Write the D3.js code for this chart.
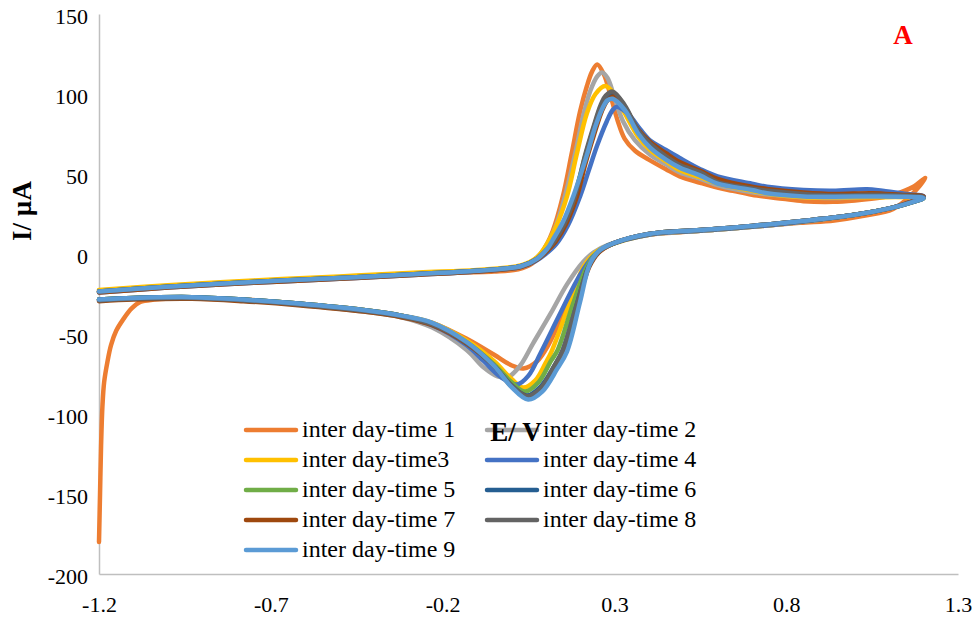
<!DOCTYPE html>
<html>
<head>
<meta charset="utf-8">
<script src="https://cdn.jsdelivr.net/npm/d3@7"></script>
<style>
	body { margin: 0; background: #fff; }
	svg text { font-family: "Liberation Serif", "Times New Roman", serif; fill: #000; }
</style>
</head>
<body>
<div id="chart"></div>
<script>
// Axis ticks
let potentialTicks = [-1.2, -0.7, -0.2, 0.3, 0.8, 1.3];
let currentTicks = [-200, -150, -100, -50, 0, 50, 100, 150];

let seriesNames = ['inter day-time 1', 'inter day-time 2', 'inter day-time3', 'inter day-time 4', 'inter day-time 5',
	'inter day-time 6', 'inter day-time 7', 'inter day-time 8', 'inter day-time 9'];
let seriesColors = ['#ED7D31', '#A5A5A5', '#FFC000', '#4472C4', '#70AD47', '#255E91', '#9E480E', '#636363', '#5B9BD5'];

// Voltammograms, [E (V), I (uA)] in scan order
let cv1 = [[-1.2,-180],[-1.197,-150],[-1.194,-120],[-1.19,-95],[-1.185,-80],[-1.176,-68],[-1.165,-57],[-1.15,-48],[-1.13,-41],[-1.105,-34],[-1.08,-30],[-1.04,-28.5],[-0.93,-27.5],[-0.78,-28.5],[-0.62,-31],[-0.43,-35],[-0.32,-38.5],[-0.23,-43],[-0.13,-53],[-0.05,-63],[0,-69.5],[0.035,-71.5],[0.075,-67],[0.11,-56],[0.15,-38],[0.19,-20],[0.225,-6],[0.26,2],[0.3,7],[0.4,12],[0.55,14.5],[0.7,17],[0.84,19.5],[0.94,21],[1.03,24],[1.11,28],[1.16,36],[1.205,47.5],
	[1.17,42],[1.12,37.5],[1.08,35.5],[1.0,33.5],[0.936,32.6],[0.85,33],[0.79,34.5],[0.7,37],[0.645,39.5],[0.6,41.5],[0.55,44.5],[0.49,48.5],[0.45,53],[0.4,59],[0.36,64.5],[0.33,72],[0.31,83],[0.29,98],[0.27,112],[0.25,118.5],[0.235,114],[0.22,105],[0.2,89],[0.175,62],[0.15,36],[0.12,14],[0.09,1],[0.06,-6],[0.02,-9.5],[-0.05,-11],[-0.27,-12],[-0.5,-14.5],[-0.75,-17],[-1.0,-20],[-1.2,-23]];

let cv2 = [[-1.2,-29],[-1.1,-28],[-0.93,-27.5],[-0.78,-29],[-0.62,-31.5],[-0.43,-36],[-0.32,-39.5],[-0.23,-46],[-0.13,-60],[-0.08,-71],[-0.04,-76.5],[-0.01,-77],[0.025,-70],[0.063,-56],[0.115,-37],[0.162,-19],[0.209,-5],[0.24,1],[0.28,5.5],[0.4,12],[0.55,14.5],[0.7,17],[0.84,20],[1.0,24.5],[1.11,29],[1.16,32.5],[1.2,36],
	[1.15,37],[1.05,36],[0.94,35],[0.85,35.5],[0.79,36.5],[0.7,38.5],[0.6,43],[0.55,47],[0.49,51],[0.45,56],[0.404,62],[0.36,71],[0.325,83],[0.3,98],[0.28,110],[0.264,113.5],[0.25,111],[0.23,102],[0.21,87],[0.185,62],[0.156,36],[0.125,15],[0.095,3],[0.065,-4],[0.03,-8],[-0.1,-10.5],[-0.27,-12.5],[-0.5,-15],[-0.75,-17.5],[-1.0,-20.5],[-1.2,-23.5]];

let cv3 = [[-1.2,-28.5],[-1.1,-27.5],[-0.93,-27],[-0.78,-28.5],[-0.62,-31],[-0.43,-35],[-0.32,-38.5],[-0.23,-43],[-0.13,-54],[-0.05,-67],[0,-78],[0.034,-83.5],[0.07,-79],[0.1,-68],[0.117,-61],[0.171,-30],[0.21,-8],[0.245,1],[0.28,5],[0.4,12],[0.55,14.5],[0.7,17],[0.84,20],[1.0,24.5],[1.11,29],[1.16,32],[1.2,35],
	[1.15,35.5],[1.05,35.5],[0.94,35.5],[0.85,35.5],[0.75,37.5],[0.7,39.5],[0.6,44],[0.55,48],[0.49,52.5],[0.45,58],[0.404,65],[0.37,73],[0.33,88],[0.3,100],[0.273,105],[0.245,100],[0.22,88],[0.19,62],[0.162,36],[0.13,17],[0.1,5],[0.075,-2],[0.03,-7],[-0.1,-10],[-0.27,-11.5],[-0.5,-14],[-0.75,-16.5],[-1.0,-19.5],[-1.2,-22.5]];

let cv4 = [[-1.2,-28.5],[-1.1,-27.5],[-0.93,-27],[-0.78,-28.5],[-0.62,-31],[-0.43,-35.5],[-0.32,-39],[-0.23,-44.5],[-0.13,-57],[-0.08,-67],[-0.03,-77],[0.017,-81.5],[0.05,-76],[0.085,-62],[0.145,-36],[0.2,-13],[0.24,-1],[0.28,5],[0.4,12],[0.55,14.5],[0.7,17],[0.84,20],[1.0,24.5],[1.11,29],[1.16,32.5],[1.2,36],
	[1.15,37.5],[1.08,39.5],[1.035,40.5],[0.936,39.5],[0.85,40],[0.744,42],[0.7,44],[0.6,48.5],[0.55,53],[0.49,60],[0.45,65],[0.404,71],[0.375,78],[0.34,87.5],[0.307,92],[0.295,90],[0.278,83],[0.25,68],[0.225,52],[0.2,36],[0.165,18],[0.13,6],[0.1,0],[0.07,-4.5],[0.03,-8],[-0.1,-11],[-0.27,-13],[-0.5,-15.5],[-0.75,-18],[-1.0,-21],[-1.2,-24]];

let cv5 = [[-1.2,-28.5],[-1.1,-27.5],[-0.93,-27],[-0.78,-28.5],[-0.62,-31],[-0.43,-35],[-0.32,-38.5],[-0.23,-43.5],[-0.13,-55],[-0.05,-69],[0,-80],[0.04,-86],[0.08,-80],[0.115,-67],[0.135,-60],[0.18,-31],[0.22,-8],[0.25,1],[0.29,6],[0.4,12.5],[0.55,15],[0.7,17.5],[0.84,20.5],[1.0,24.5],[1.11,29],[1.16,32],[1.2,35],
	[1.15,36],[1.05,36.5],[0.94,36.5],[0.85,37],[0.75,39],[0.7,40.5],[0.6,45],[0.55,50.5],[0.49,55.5],[0.45,61],[0.404,68.5],[0.37,76.5],[0.33,92],[0.295,100],[0.275,98],[0.26,92],[0.24,79],[0.215,61],[0.183,36],[0.153,19],[0.123,8],[0.1,2],[0.075,-3],[0.03,-7.5],[-0.1,-10.5],[-0.27,-12.5],[-0.5,-15],[-0.75,-17.5],[-1.0,-20.5],[-1.2,-23.5]];

let cv6 = [[-1.2,-28.5],[-1.1,-27.5],[-0.93,-27],[-0.78,-28.5],[-0.62,-31],[-0.43,-35],[-0.32,-38.5],[-0.23,-43.5],[-0.13,-55.5],[-0.05,-70],[0,-82],[0.045,-88.5],[0.085,-83],[0.125,-70],[0.15,-60],[0.19,-32],[0.225,-8],[0.255,1.5],[0.29,6],[0.4,12.5],[0.55,15],[0.7,17.5],[0.84,20.5],[1.0,24.5],[1.11,29],[1.16,32],[1.2,35],
	[1.15,36.5],[1.05,37],[0.94,37],[0.85,37.5],[0.75,39.5],[0.7,41],[0.6,46],[0.55,51.5],[0.49,56.5],[0.45,62],[0.404,69.5],[0.37,77],[0.33,92],[0.3,100],[0.28,98],[0.262,92],[0.24,78],[0.215,60],[0.188,36],[0.157,19],[0.127,8],[0.1,1.5],[0.075,-3],[0.03,-7.5],[-0.1,-10.5],[-0.27,-12.5],[-0.5,-15],[-0.75,-17.5],[-1.0,-20.5],[-1.2,-23.5]];

let cv7 = [[-1.2,-29.5],[-1.1,-28.5],[-0.93,-28],[-0.78,-29.5],[-0.62,-32],[-0.43,-36],[-0.32,-39.5],[-0.23,-44.5],[-0.13,-56],[-0.05,-70],[0,-82.5],[0.047,-89],[0.087,-84],[0.127,-70],[0.152,-60],[0.192,-32],[0.227,-8],[0.257,1.5],[0.29,6],[0.4,12.5],[0.55,15],[0.7,17.5],[0.84,20.5],[1.0,24.5],[1.11,29],[1.16,32.5],[1.2,36],
	[1.13,37],[1.05,38],[0.94,37.5],[0.85,38.5],[0.75,40.5],[0.7,42],[0.6,47],[0.55,52],[0.49,57.5],[0.45,63],[0.404,70],[0.37,77.5],[0.33,91.5],[0.298,98.5],[0.28,96],[0.263,89],[0.24,74],[0.215,56],[0.191,36],[0.16,19],[0.13,8],[0.1,1],[0.075,-3.5],[0.03,-8],[-0.1,-11],[-0.27,-13],[-0.5,-15.5],[-0.75,-18],[-1.0,-21],[-1.2,-24]];

let cv8 = [[-1.2,-29],[-1.1,-28],[-0.93,-27.5],[-0.78,-29],[-0.62,-31.5],[-0.43,-35.5],[-0.32,-39],[-0.23,-44],[-0.13,-55.5],[-0.05,-70],[0,-82],[0.045,-89],[0.085,-84],[0.125,-70],[0.15,-60],[0.19,-32],[0.225,-8],[0.255,1.5],[0.29,6],[0.4,12.5],[0.55,15],[0.7,17.5],[0.84,20.5],[1.0,24.5],[1.11,29],[1.16,32],[1.2,35.5],
	[1.13,36.5],[1.05,37],[0.94,36.5],[0.85,37.5],[0.75,39.5],[0.7,41],[0.6,45],[0.55,51],[0.49,55.6],[0.45,61],[0.404,69],[0.37,77],[0.33,93],[0.295,101.5],[0.275,99],[0.26,93],[0.24,80],[0.215,62],[0.185,36],[0.155,19],[0.125,8],[0.1,2],[0.075,-3],[0.03,-7.5],[-0.1,-10.5],[-0.27,-12.5],[-0.5,-15],[-0.75,-17.5],[-1.0,-20.5],[-1.2,-23.5]];

let cv9 = [[-1.2,-28.5],[-1.1,-27.5],[-0.93,-27],[-0.78,-28.5],[-0.62,-31],[-0.43,-35],[-0.32,-38.5],[-0.23,-43],[-0.13,-55],[-0.05,-70],[0,-83],[0.049,-91],[0.09,-86],[0.133,-72],[0.162,-61],[0.2,-30],[0.229,-6],[0.258,2.5],[0.3,7],[0.4,12.5],[0.55,15],[0.7,17.5],[0.84,20.5],[1.0,24.5],[1.11,29],[1.16,32],[1.2,35],
	[1.15,35.8],[1.05,36],[0.94,35.8],[0.85,36],[0.744,38],[0.7,40],[0.6,44],[0.55,49],[0.49,54],[0.45,59],[0.404,66.5],[0.37,75],[0.33,90],[0.295,97],[0.28,96],[0.265,91],[0.245,80],[0.22,62],[0.18,36],[0.15,20],[0.121,9],[0.104,3],[0.075,-3],[0.03,-7.5],[-0.1,-10.5],[-0.27,-12.5],[-0.5,-15],[-0.75,-17.5],[-1.0,-20.5],[-1.2,-23.5]];

let allSeries = [cv1, cv2, cv3, cv4, cv5, cv6, cv7, cv8, cv9];

// Set up SVG
let width = 979;
let height = 625;

let svg = d3.select('#chart')
	.append('svg')
	.attr('width', width)
	.attr('height', height);

let x = d3.scaleLinear().domain([-1.2, 1.3]).range([99, 958]);
let y = d3.scaleLinear().domain([-200, 150]).range([574, 14]);

// Axes (plain hyphen for negatives, like the original)
let yAxis = svg.append('g')
	.attr('transform', 'translate(99,0)')
	.call(d3.axisLeft(y).tickValues(currentTicks).tickSize(0).tickPadding(11).tickFormat(function(d){ return String(d); }));

let xAxis = svg.append('g')
	.attr('transform', 'translate(0,574)')
	.call(d3.axisBottom(x).tickValues(potentialTicks).tickSize(0).tickPadding(22).tickFormat(function(d){ return d.toFixed(1); }));

yAxis.selectAll('text').attr('dy', '0.45em');

[xAxis, yAxis].forEach(function(a){
	a.select('.domain').attr('stroke', '#BFBFBF').attr('stroke-width', 1.5);
	a.selectAll('text').attr('font-size', 22).attr('font-family', '"Liberation Serif", serif').attr('fill', '#000');
});

// Curves
let line = d3.line()
	.x(function(d){ return x(d[0]); })
	.y(function(d){ return y(d[1]); })
	.curve(d3.curveCatmullRom.alpha(0.5));

svg.append('g')
	.selectAll('path')
	.data(allSeries)
	.enter()
	.append('path')
	.attr('fill', 'none')
	.attr('stroke', function(d, i){ return seriesColors[i]; })
	.attr('stroke-width', 4.5)
	.attr('stroke-linejoin', 'round')
	.attr('stroke-linecap', 'round')
	.attr('d', line);

// Legend
let legend = svg.append('g');
for(let i = 0; i < seriesNames.length; i++){
	let lx = (i % 2 === 0) ? 246 : 487;
	let ly = 430 + Math.floor(i / 2) * 30;
	legend.append('line')
		.attr('x1', lx).attr('x2', lx + 50)
		.attr('y1', ly).attr('y2', ly)
		.attr('stroke', seriesColors[i])
		.attr('stroke-width', 4.5)
		.attr('stroke-linecap', 'round');
	legend.append('text')
		.attr('x', lx + 56)
		.attr('y', ly + 7)
		.attr('font-size', 24)
		.text(seriesNames[i]);
}

// Titles
svg.append('text')
	.attr('x', 516)
	.attr('y', 441)
	.attr('text-anchor', 'middle')
	.attr('font-size', 27)
	.attr('font-weight', 'bold')
	.text('E/ V');

svg.append('text')
	.attr('transform', 'translate(31,211) rotate(-90)')
	.attr('text-anchor', 'middle')
	.attr('font-size', 27)
	.attr('font-weight', 'bold')
	.text('I/ µA');

svg.append('text')
	.attr('x', 903)
	.attr('y', 44)
	.attr('text-anchor', 'middle')
	.attr('font-size', 27)
	.attr('font-weight', 'bold')
	.style('fill', '#FF0000')
	.text('A');
</script>
</body>
</html>
